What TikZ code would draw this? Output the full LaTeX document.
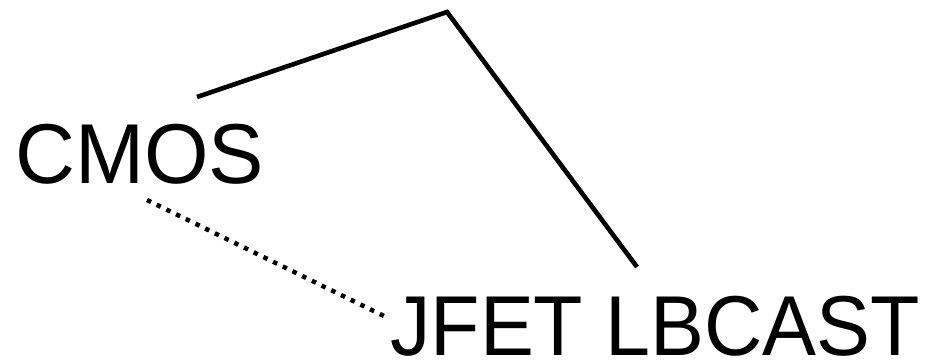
\documentclass[tikz,border=0pt]{standalone}
\usepackage{fontspec}
\setmainfont{Liberation Sans}
\begin{document}
\begin{tikzpicture}[x=1pt,y=-1pt,
  lbl/.style={inner sep=0pt,anchor=base west,text depth=0pt,font=\fontsize{85}{90}\selectfont},
  solidline/.style={line width=4.6pt,line join=miter},
  dotline/.style={line width=4.5pt,dash pattern=on 4.5pt off 6.3pt}]
\useasboundingbox (0,0) rectangle (944,363);
\node[lbl,xscale=0.976] (cmos) at (15,184) {CMOS};
\node[lbl,xscale=0.951] (jfet) at (390,355) {JFET LBCAST};
\coordinate (a) at (197,97);
\coordinate (peak) at (447,12);
\coordinate (b) at (637,267);
\coordinate (c) at (147,200);
\coordinate (d) at (388,318);
\draw[solidline] (a) -- (peak) -- (b);
\draw[dotline] (c) -- (d);
\end{tikzpicture}
\end{document}
